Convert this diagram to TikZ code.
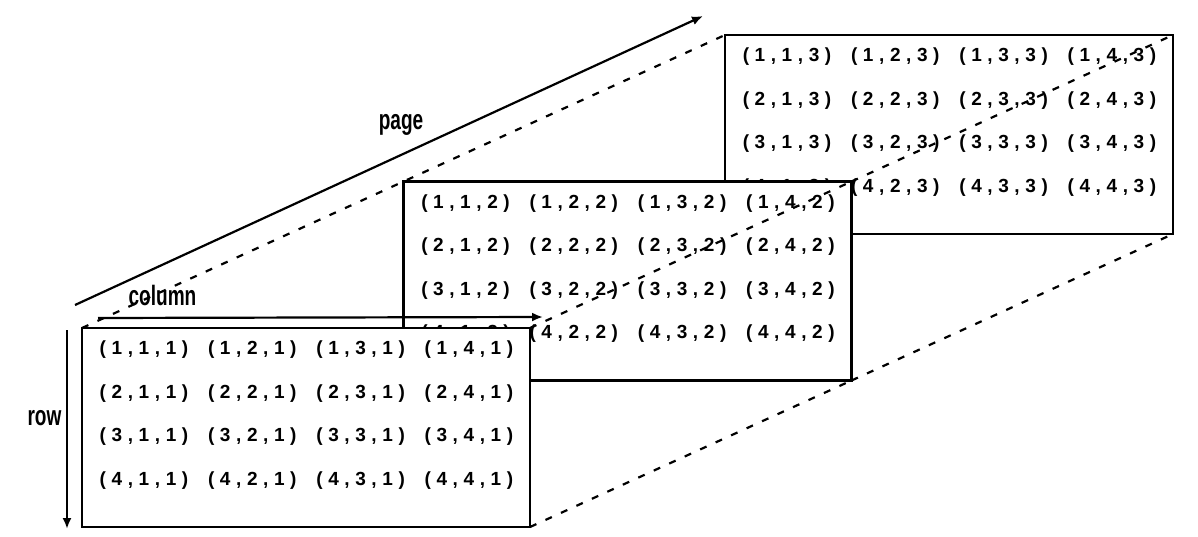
\documentclass[tikz,border=0pt]{standalone}
\usepackage{fontspec}
\setmainfont{Liberation Sans}
\usetikzlibrary{arrows.meta}
\newdimen\cg \cg=5.6pt
\newcommand\cel[3]{(\kern\cg#1\kern\cg,\kern\cg#2\kern\cg,\kern\cg#3\kern\cg)}
\tikzset{
 pagebox/.style={draw, fill=white, line width=2.2pt, minimum width=448pt, minimum height=199pt, inner sep=0pt, outer sep=0pt, anchor=north west},
 cellt/.style={font=\fontsize{19}{19}\selectfont\bfseries, inner sep=0pt},
 lab/.style={font=\fontsize{28}{28}\selectfont\bfseries, xscale=0.68, inner sep=0pt, anchor=base},
 dashl/.style={line width=2.2pt, dash pattern=on 7pt off 10pt},
 arr/.style={line width=2.2pt, -{Latex[length=11pt,width=9pt]}},
}
\begin{document}
\begin{tikzpicture}[x=1pt,y=-1pt]
\useasboundingbox (0,0) rectangle (1198,537);
% page 3
\node[pagebox] (p3) at (725,35) {};
\foreach \r in {1,...,4}{\foreach \c in {1,...,4}{
  \node[cellt] (c3\r\c) at ({725+62+108.3*(\c-1)},{35+22+43.5*(\r-1)}) {\cel{\r}{\c}{3}};}}
% page 2
\node[pagebox] (p2) at (403.5,181.5) {};
\foreach \r in {1,...,4}{\foreach \c in {1,...,4}{
  \node[cellt] (c2\r\c) at ({403.5+62+108.3*(\c-1)},{181.5+22+43.5*(\r-1)}) {\cel{\r}{\c}{2}};}}
\draw[dashl] (p2.north east) -- (p3.north east);
\draw[dashl] (p2.south east) -- (p3.south east);
% page 1
\node[pagebox] (p1) at (82,328) {};
\foreach \r in {1,...,4}{\foreach \c in {1,...,4}{
  \node[cellt] (c1\r\c) at ({82+62+108.3*(\c-1)},{328+22+43.5*(\r-1)}) {\cel{\r}{\c}{1}};}}
\draw[dashl] (p1.north west) -- (p3.north west);
\draw[dashl] (p1.north east) -- (p2.north east);
\draw[dashl] (p1.south east) -- (p2.south east);
% axes
\coordinate (pgs) at (75,305);
\coordinate (pge) at (703,16);
\draw[arr] (pgs) -- (pge);
\coordinate (cls) at (98,318);
\coordinate (cle) at (543,317);
\draw[arr] (cls) -- (cle);
\coordinate (rws) at (67,330);
\coordinate (rwe) at (67,529);
\draw[arr] (rws) -- (rwe);
\node[lab] (lpage) at (401,130) {page};
\node[lab] (lcol) at (162.5,305) {column};
\node[lab] (lrow) at (44.5,425) {row};
\end{tikzpicture}
\end{document}
